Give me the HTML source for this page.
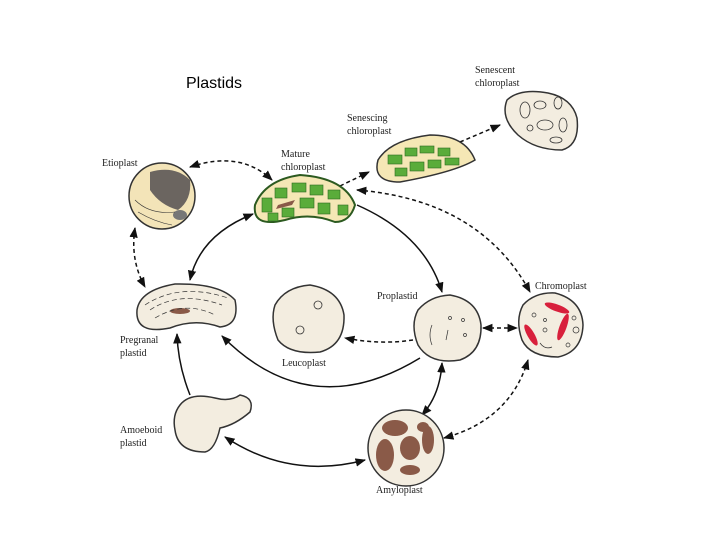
<!DOCTYPE html>
<html><head><meta charset="utf-8"><style>
html,body{margin:0;padding:0;background:#fff;}
svg{display:block}
.l{font-family:"Liberation Serif",serif;font-size:10px;fill:#222}
</style></head><body>
<svg width="720" height="540" viewBox="0 0 720 540" xmlns="http://www.w3.org/2000/svg">
<defs>
<marker id="a" viewBox="0 0 10 10" refX="9" refY="5" markerWidth="7" markerHeight="7" orient="auto-start-reverse"><path d="M0,1 L10,5 L0,9 Z" fill="#111"/></marker>
</defs>
<text x="186" y="88" font-family="Liberation Sans,sans-serif" font-size="16" fill="#000">Plastids</text>

<g class="l">
<text x="102" y="166">Etioplast</text>
<text x="281" y="157">Mature</text><text x="281" y="170">chloroplast</text>
<text x="347" y="121">Senescing</text><text x="347" y="134">chloroplast</text>
<text x="475" y="73">Senescent</text><text x="475" y="86">chloroplast</text>
<text x="377" y="299">Proplastid</text>
<text x="535" y="289">Chromoplast</text>
<text x="120" y="343">Pregranal</text><text x="120" y="356">plastid</text>
<text x="282" y="366">Leucoplast</text>
<text x="120" y="433">Amoeboid</text><text x="120" y="446">plastid</text>
<text x="376" y="493">Amyloplast</text>
</g>

<g fill="none" stroke="#111" stroke-width="1.5">
<g stroke-dasharray="4,3">
<path d="M190,167 Q240,150 272,180" marker-start="url(#a)" marker-end="url(#a)"/>
<path d="M340,186 L369,172" marker-end="url(#a)"/>
<path d="M460,142 L500,125" marker-end="url(#a)"/>
<path d="M357,190 Q480,200 530,292" marker-start="url(#a)" marker-end="url(#a)"/>
<path d="M135,228 Q130,260 145,287" marker-start="url(#a)" marker-end="url(#a)"/>
<path d="M413,340 Q380,345 345,338" marker-end="url(#a)"/>
<path d="M483,328 L517,328" marker-start="url(#a)" marker-end="url(#a)"/>
<path d="M528,360 Q510,420 444,438" marker-start="url(#a)" marker-end="url(#a)"/>
</g>
<path d="M190,280 Q200,235 253,214" marker-start="url(#a)" marker-end="url(#a)"/>
<path d="M357,205 Q425,235 442,292" marker-end="url(#a)"/>
<path d="M420,358 Q310,425 222,336" marker-end="url(#a)"/>
<path d="M442,363 Q440,395 422,415" marker-start="url(#a)" marker-end="url(#a)"/>
<path d="M190,395 Q178,365 177,334" marker-end="url(#a)"/>
<path d="M365,460 Q290,480 225,437" marker-start="url(#a)" marker-end="url(#a)"/>
</g>

<g stroke="#333" stroke-width="1.5">
<path d="M507,100 Q520,88 548,93 Q572,98 577,118 Q580,145 562,150 Q535,150 518,135 Q500,118 507,100 Z" fill="#f3ede0"/>
<g fill="none" stroke-width="0.8"><ellipse cx="525" cy="110" rx="5" ry="8"/><ellipse cx="540" cy="105" rx="6" ry="4"/><ellipse cx="558" cy="103" rx="4" ry="6"/><ellipse cx="545" cy="125" rx="8" ry="5"/><ellipse cx="563" cy="125" rx="4" ry="7"/><ellipse cx="530" cy="128" rx="3" ry="3"/><ellipse cx="556" cy="140" rx="6" ry="3"/></g>
<path d="M378,160 Q390,140 430,135 Q465,135 475,160 Q455,172 400,182 Q372,182 378,160 Z" fill="#f5e7b5"/>
<g fill="#5aac3a" stroke="#2c6a20" stroke-width="0.6"><rect x="388" y="155" width="14" height="9"/><rect x="405" y="148" width="12" height="8"/><rect x="420" y="146" width="14" height="7"/><rect x="438" y="148" width="12" height="8"/><rect x="410" y="162" width="14" height="9"/><rect x="428" y="160" width="13" height="8"/><rect x="445" y="158" width="14" height="7"/><rect x="395" y="168" width="12" height="8"/></g>
<path d="M255,205 Q265,180 300,175 Q345,178 355,205 Q350,222 335,222 Q310,212 285,220 Q252,228 255,205 Z" fill="#f5e7b5" stroke="#2c5a20" stroke-width="2"/>
<g fill="#5aac3a" stroke="#2c6a20" stroke-width="0.6"><rect x="262" y="198" width="10" height="14"/><rect x="275" y="188" width="12" height="10"/><rect x="292" y="183" width="14" height="9"/><rect x="310" y="185" width="13" height="10"/><rect x="328" y="190" width="12" height="9"/><rect x="300" y="198" width="14" height="10"/><rect x="318" y="203" width="12" height="11"/><rect x="338" y="205" width="10" height="10"/><rect x="282" y="208" width="12" height="9"/><rect x="268" y="213" width="10" height="8"/></g>
<path d="M278,205 L295,200 L292,205 L276,209 Z" fill="#8a5a48" stroke="none"/>
<circle cx="162" cy="196" r="33" fill="#f3e4b8"/>
<path d="M150,172 Q175,165 190,180 Q192,200 178,210 Q160,205 150,190 Z" fill="#6b6560" stroke="none"/>
<ellipse cx="180" cy="215" rx="7" ry="5" fill="#777" stroke="none"/>
<g fill="none" stroke-width="0.6"><path d="M135,200 Q150,215 175,212"/><path d="M138,212 Q155,222 172,225"/></g>
<path d="M137,310 Q140,290 175,284 Q220,283 235,300 Q240,325 220,327 Q195,318 170,328 Q135,335 137,310 Z" fill="#f3ede0"/>
<ellipse cx="180" cy="311" rx="10" ry="3" fill="#8a5a48" stroke="none"/>
<g fill="none" stroke-width="0.7" stroke-dasharray="5,3"><path d="M150,310 Q180,290 222,305"/><path d="M155,318 Q185,300 215,315"/><path d="M145,305 Q180,282 228,298"/></g>
<path d="M275,305 Q285,287 310,285 Q340,290 344,315 Q345,345 320,352 Q290,355 278,340 Q270,320 275,305 Z" fill="#f3ede0"/>
<circle cx="318" cy="305" r="4" fill="none" stroke-width="0.8"/><circle cx="300" cy="330" r="4" fill="none" stroke-width="0.8"/>
<path d="M418,310 Q430,296 450,295 Q478,300 481,325 Q482,352 460,360 Q430,365 418,345 Q410,325 418,310 Z" fill="#f3ede0"/>
<g fill="none" stroke-width="0.7"><path d="M432,325 Q428,335 432,345"/><path d="M448,330 L446,340"/><circle cx="450" cy="318" r="1.5"/><circle cx="463" cy="320" r="1.5"/><circle cx="465" cy="335" r="1.5"/></g>
<path d="M523,305 Q535,292 555,293 Q582,300 583,325 Q582,352 558,357 Q530,357 522,340 Q515,320 523,305 Z" fill="#f3ede0"/>
<g fill="none" stroke-width="0.7"><circle cx="534" cy="315" r="2"/><circle cx="545" cy="320" r="1.5"/><circle cx="574" cy="318" r="2"/><circle cx="576" cy="330" r="3"/><circle cx="545" cy="330" r="2"/><circle cx="568" cy="345" r="2"/><path d="M540,343 Q545,350 552,347"/></g>
<g fill="#d8203c" stroke="none"><ellipse cx="557" cy="308" rx="13" ry="3.5" transform="rotate(20 557 308)"/><ellipse cx="563" cy="327" rx="14" ry="3.5" transform="rotate(-70 563 327)"/><ellipse cx="531" cy="335" rx="12" ry="3.5" transform="rotate(60 531 335)"/></g>
<path d="M180,405 Q190,392 215,398 Q230,402 240,395 Q255,398 250,412 Q235,425 220,428 Q215,450 205,452 Q178,452 175,430 Q172,415 180,405 Z" fill="#f3ede0"/>
<circle cx="406" cy="448" r="38" fill="#f3ede0"/>
<g fill="#8a5a48" stroke="none"><ellipse cx="395" cy="428" rx="13" ry="8"/><ellipse cx="385" cy="455" rx="9" ry="16"/><ellipse cx="410" cy="448" rx="10" ry="12"/><ellipse cx="428" cy="440" rx="6" ry="14"/><ellipse cx="410" cy="470" rx="10" ry="5"/><ellipse cx="423" cy="427" rx="6" ry="5"/></g>
</g>
</svg>
</body></html>
